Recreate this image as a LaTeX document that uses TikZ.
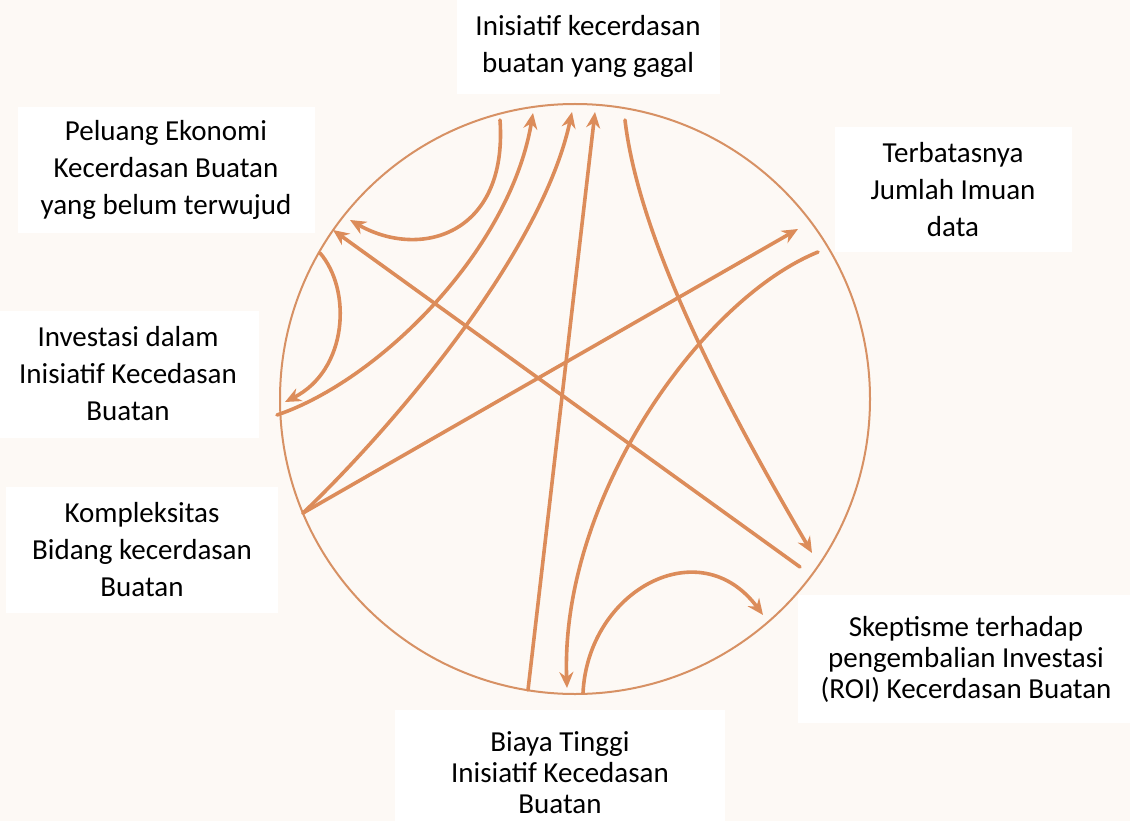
\documentclass[tikz,border=0pt]{standalone}
\usepackage{fontspec}
\setmainfont{Carlito}
\usetikzlibrary{arrows.meta}
\definecolor{bgc}{RGB}{253,249,245}
\definecolor{arr}{RGB}{220,140,90}
\definecolor{arrlight}{RGB}{236,172,128}
\definecolor{circ}{RGB}{215,145,100}
\tikzset{
  lbl/.style={fill=white, align=center, font=\fontsize{29}{37}\selectfont, text=black, inner sep=0pt},
  lbltight/.style={lbl, font=\fontsize{29}{31}\selectfont},
  conn/.style={draw=arr, line width=3.6pt, line cap=round, -{Stealth[length=16pt,width=14pt]}},
  rim/.style={draw=circ, line width=2pt},
}
\begin{document}
\begin{tikzpicture}[x=1pt,y=-1pt]
\path[use as bounding box, fill=bgc] (0,0) rectangle (1130,821);
% circle
\node[rim, circle, minimum size=590pt, inner sep=0pt] (rimc) at (575,399) {};
% labels
\node[lbl, minimum width=263, minimum height=97] (gagal) at (588,46) {Inisiatif kecerdasan\\buatan yang gagal};
\node[lbl, minimum width=297, minimum height=126] (peluang) at (166,170) {Peluang Ekonomi\\Kecerdasan Buatan\\yang belum terwujud};
\node[lbl, minimum width=262, minimum height=127] (invest) at (128,374) {Investasi dalam\\Inisiatif Kecedasan\\Buatan};
\node[lbl, minimum width=272, minimum height=126] (kompl) at (142,550) {Kompleksitas\\Bidang kecerdasan\\Buatan};
\node[lbl, minimum width=237, minimum height=125] (terbatas) at (953,190) {Terbatasnya\\Jumlah Imuan\\data};
\node[lbltight, minimum width=336, minimum height=128] (skep) at (966,659) {Skeptisme terhadap\\pengembalian Investasi\\(ROI) Kecerdasan Buatan};
\node[lbltight, minimum width=330, minimum height=126] (biaya) at (560,773) {Biaya Tinggi\\Inisiatif Kecedasan\\Buatan};
% end points on the rim
\coordinate (gA) at (500,120);
\coordinate (gB) at (533,113);
\coordinate (gC) at (572,112);
\coordinate (gD) at (595,112);
\coordinate (gE) at (625,120);
\coordinate (pA) at (350,220);
\coordinate (pB) at (333,230);
\coordinate (pC) at (320,253);
\coordinate (iA) at (285,402);
\coordinate (iB) at (277,415);
\coordinate (kA) at (303,513);
\coordinate (tA) at (798,229);
\coordinate (tB) at (818,252);
\coordinate (sA) at (812,553);
\coordinate (sB) at (800,567);
\coordinate (sC) at (763,615);
\coordinate (bA) at (528,690);
\coordinate (bB) at (567,688);
\coordinate (bC) at (583,693);
% connectors
\draw[conn] (gA) .. controls (508,235) and (420,260) .. (pA);
\draw[conn] (pC) .. controls (352,290) and (348,370) .. (iA);
\draw[conn] (iB) .. controls (380,380) and (510,250) .. (gB);
\draw[conn] (kA) .. controls (380,440) and (540,260) .. (gC);
\draw[conn] (bA) -- (gD);
\draw[conn] (gE) .. controls (640,250) and (740,430) .. (sA);
\draw[conn] (sB) -- (pB);
\draw[conn] (kA) -- (tA);
\draw[conn] (tB) .. controls (700,300) and (560,500) .. (bB);
\draw[conn] (bC) .. controls (588,590) and (700,530) .. (sC);
\end{tikzpicture}
\end{document}
